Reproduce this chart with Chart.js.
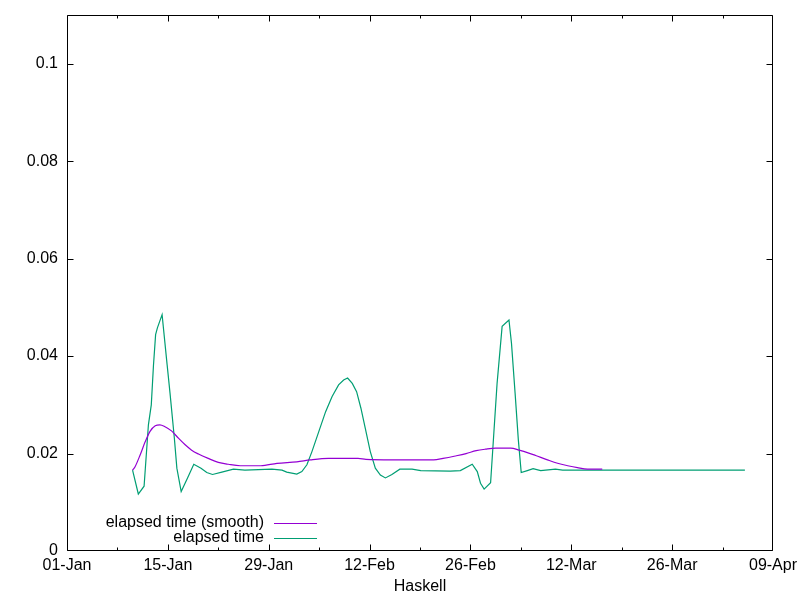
<!DOCTYPE html>
<html>
<head>
<meta charset="utf-8">
<title>Haskell elapsed time</title>
<script src="https://cdn.jsdelivr.net/npm/chart.js@4.4.0/dist/chart.umd.min.js"></script>
<style>
  html, body { margin: 0; padding: 0; background: #fff; }
  #chart { display: block; }
</style>
</head>
<body>
<canvas id="chart" width="800" height="600"></canvas>
<script>
// x values are days counted from 01-Jan
const rawDays = [9.1, 9.9, 10.7, 11.3, 11.7, 12.0, 12.3, 12.55, 13.2, 13.9, 14.3, 14.9, 15.25, 15.85,
    16.7, 17.6, 18.6, 19.4, 20.2, 21.5, 23.1, 24.7, 28.45, 29.85, 30.5, 31.9, 32.6, 33.3, 34.0,
    34.95, 35.9, 36.8, 37.7, 38.4, 38.95, 39.6, 40.2, 40.8, 41.4, 42.1, 42.8, 43.5, 44.2, 45.1,
    46.2, 47.9, 49.1, 53.2, 54.6, 56.25, 56.95, 57.4, 57.9, 58.8, 59.25, 59.7, 60.4, 61.35, 61.7,
    62.2, 62.65, 63.05, 63.9, 64.7, 65.75, 67.8, 68.8, 94.1];
const rawTimes = [0.0166, 0.0117, 0.0133, 0.0259, 0.0300, 0.0380, 0.0444, 0.0458, 0.0485, 0.0382,
    0.0324, 0.0232, 0.0170, 0.0122, 0.0149, 0.0178, 0.0170, 0.0161, 0.0157, 0.0162, 0.0168, 0.0166,
    0.0168, 0.0166, 0.0162, 0.0158, 0.0163, 0.0177, 0.0204, 0.0245, 0.0286, 0.0317, 0.0341, 0.0351,
    0.0355, 0.0344, 0.0327, 0.0293, 0.0252, 0.0204, 0.0170, 0.0156, 0.0150, 0.0157, 0.0168, 0.0168,
    0.0165, 0.0164, 0.0165, 0.0178, 0.0163, 0.0139, 0.0127, 0.0140, 0.0242, 0.0344, 0.0461, 0.0474,
    0.0426, 0.0324, 0.0228, 0.0161, 0.0165, 0.0169, 0.0165, 0.0168, 0.0166, 0.0166];

const smoothDays = [9.1, 9.45, 10.15, 10.85, 11.55, 12.25, 12.9, 13.6, 14.55, 15.5, 16.4, 17.3, 18.25,
    19.6, 21.0, 22.4, 24.05, 26.9, 29.15, 31.9, 33.8, 36.3, 40.4, 41.5, 45.1, 50.9, 52.2, 53.9,
    55.4, 56.8, 58.1, 59.5, 61.6, 62.75, 64.1, 65.05, 66.7, 68.1, 69.5, 70.85, 72.25, 74.3];
const smoothTimes = [0.0166, 0.0173, 0.0197, 0.0224, 0.0246, 0.0257, 0.0259, 0.0255, 0.0246, 0.0231,
    0.0218, 0.0207, 0.0199, 0.0190, 0.0182, 0.0178, 0.0175, 0.0175, 0.0180, 0.0183, 0.0187, 0.0190,
    0.0190, 0.0188, 0.0187, 0.0187, 0.0190, 0.0195, 0.0200, 0.0206, 0.0209, 0.0211, 0.0211, 0.0207,
    0.0201, 0.0196, 0.0187, 0.0180, 0.0175, 0.0171, 0.0168, 0.0168];

const majorDays = [0, 14, 28, 42, 56, 70, 84, 98];
const xTickLabels = ['01-Jan', '15-Jan', '29-Jan', '12-Feb', '26-Feb', '12-Mar', '26-Mar', '09-Apr'];
const minorDays = [7, 21, 35, 49, 63, 77, 91];
const yTicks = [0, 0.02, 0.04, 0.06, 0.08, 0.1];
const yTickLabels = ['0', '0.02', '0.04', '0.06', '0.08', '0.1'];

const seriesNames = ['elapsed time (smooth)', 'elapsed time'];
const seriesColors = ['#9400d3', '#009e73'];

function toPoints(xs, ys) {
    return xs.map((x, i) => ({ x: x, y: ys[i] }));
}

Chart.defaults.font.family = "'Liberation Sans', Arial, sans-serif";
Chart.defaults.font.size = 16;
Chart.defaults.color = '#000';

// keep the plot box fixed, labels may hang over the edges
function noOverflow(scale) {
    scale.paddingLeft = 0;
    scale.paddingRight = 0;
    scale.paddingTop = 0;
    scale.paddingBottom = 0;
}

// gnuplot style frame with inward ticks on all four sides
const framePlugin = {
    id: 'frame',
    afterDatasetsDraw(chart) {
        const ctx = chart.ctx;
        const { left, right, top, bottom } = chart.chartArea;
        const xs = chart.scales.x;
        const ys = chart.scales.y;
        const x0 = left + 0.5, x1 = right - 0.5, y0 = top + 0.5, y1 = bottom - 0.5;
        ctx.save();
        ctx.strokeStyle = '#000';
        ctx.lineWidth = 1;
        ctx.beginPath();
        ctx.rect(x0, y0, x1 - x0, y1 - y0);
        xs.ticks.forEach(t => {
            const px = Math.min(x1, Math.max(x0, Math.round(xs.getPixelForValue(t.value)) + 0.5));
            const len = majorDays.includes(t.value) ? 6 : 3;
            ctx.moveTo(px, y1);
            ctx.lineTo(px, y1 - len);
            ctx.moveTo(px, y0);
            ctx.lineTo(px, y0 + len);
        });
        ys.ticks.forEach(t => {
            const py = Math.min(y1, Math.max(y0, Math.round(ys.getPixelForValue(t.value)) + 0.5));
            ctx.moveTo(x0, py);
            ctx.lineTo(x0 + 6, py);
            ctx.moveTo(x1, py);
            ctx.lineTo(x1 - 6, py);
        });
        ctx.stroke();
        ctx.restore();
    }
};

// key in the lower left: text first, then line sample
const keyPlugin = {
    id: 'key',
    afterDraw(chart) {
        const ctx = chart.ctx;
        const { left, bottom } = chart.chartArea;
        ctx.save();
        ctx.font = "16px 'Liberation Sans', Arial, sans-serif";
        ctx.textAlign = 'right';
        ctx.textBaseline = 'alphabetic';
        chart.data.datasets.forEach((ds, i) => {
            const base = bottom - 24 + i * 15;
            ctx.fillStyle = '#000';
            ctx.fillText(ds.label, left + 197, base);
            ctx.strokeStyle = ds.borderColor;
            ctx.lineWidth = 1;
            ctx.beginPath();
            ctx.moveTo(left + 207, base - 3.5);
            ctx.lineTo(left + 250, base - 3.5);
            ctx.stroke();
        });
        ctx.restore();
    }
};

new Chart(document.getElementById('chart'), {
    type: 'line',
    data: {
        datasets: [{
            label: seriesNames[0],
            data: toPoints(smoothDays, smoothTimes),
            borderColor: seriesColors[0],
            borderWidth: 1.2,
            pointRadius: 0,
            cubicInterpolationMode: 'monotone',
            fill: false
        }, {
            label: seriesNames[1],
            data: toPoints(rawDays, rawTimes),
            borderColor: seriesColors[1],
            borderWidth: 1.2,
            pointRadius: 0,
            tension: 0,
            fill: false
        }]
    },
    options: {
        responsive: false,
        animation: false,
        events: [],
        layout: { padding: { left: 0, right: 27, top: 15, bottom: 0 } },
        plugins: {
            legend: { display: false },
            tooltip: { enabled: false }
        },
        scales: {
            x: {
                type: 'linear',
                min: 0,
                max: 98,
                grid: { display: false, drawTicks: false },
                border: { display: false },
                afterBuildTicks(scale) {
                    scale.ticks = majorDays.concat(minorDays).sort((a, b) => a - b).map(v => ({ value: v }));
                },
                afterFit(scale) {
                    scale.height = 49;
                    noOverflow(scale);
                },
                ticks: {
                    autoSkip: false,
                    maxRotation: 0,
                    padding: 5,
                    callback(value) {
                        const i = majorDays.indexOf(value);
                        return i >= 0 ? xTickLabels[i] : '';
                    }
                },
                title: { display: true, text: 'Haskell', padding: { top: 0, bottom: 4 } }
            },
            y: {
                min: 0,
                max: 0.11,
                grid: { display: false, drawTicks: false },
                border: { display: false },
                afterBuildTicks(scale) {
                    scale.ticks = yTicks.map(v => ({ value: v }));
                },
                afterFit(scale) {
                    scale.width = 67;
                    noOverflow(scale);
                },
                ticks: {
                    padding: 9,
                    callback(value) {
                        const i = yTicks.indexOf(value);
                        return i >= 0 ? yTickLabels[i] : '';
                    }
                }
            }
        }
    },
    plugins: [framePlugin, keyPlugin]
});
</script>
</body>
</html>
